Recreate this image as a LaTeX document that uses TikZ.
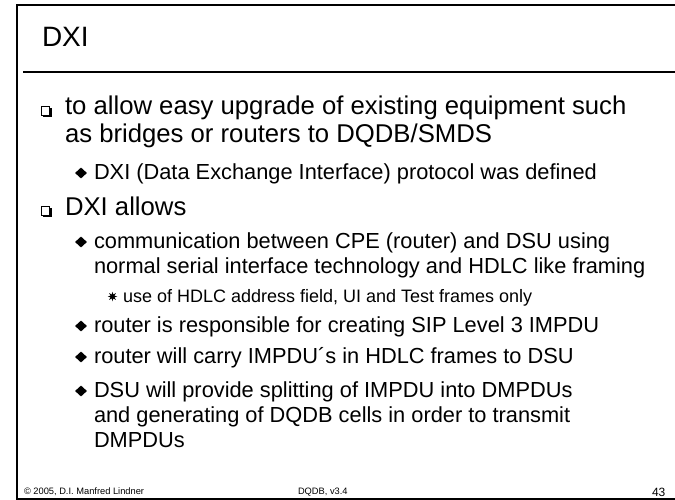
\documentclass[tikz,border=0pt]{standalone}
\usepackage{fontspec}
\setmainfont{Liberation Sans}
\usetikzlibrary{shapes.geometric}

\tikzset{
  x=1pt, y=-1pt,
  txt/.style={anchor=base west, inner sep=0pt, outer sep=0pt},
  titletxt/.style={txt, font=\fontsize{28}{30}\selectfont},
  lone/.style={txt, font=\fontsize{25.7}{28}\selectfont},
  ltwo/.style={txt, font=\fontsize{21.8}{24}\selectfont},
  lthree/.style={txt, font=\fontsize{18}{20}\selectfont},
  foot/.style={txt, font=\fontsize{9.3}{10}\selectfont},
  pagenum/.style={txt, font=\fontsize{12}{13}\selectfont},
  dmd/.style={diamond, fill=black, inner sep=0pt, minimum width=12pt, minimum height=11pt},
  asterbul/.style={star, star points=8, star point ratio=2.2, fill=black, inner sep=0pt, minimum size=9.5pt},
  frameline/.style={line width=2pt, black},
  % shadowed square bullet, placed at the text baseline
  sqbul/.pic={
    \fill[black] (1.8,-8.2) rectangle (11,1.2);
    \fill[white] (0,-10) rectangle (8.6,-0.4);
    \draw[line width=0.9pt] (0.45,-9.55) rectangle (8.65,-0.45);
  }
}

\begin{document}
\begin{tikzpicture}
\useasboundingbox (0,0) rectangle (675,500);
\fill[white] (0,0) rectangle (675,500);

% slide frame, open to the right
\draw[frameline] (676,5) -- (17,5) -- (17,498.5) -- (676,498.5);

% title and rule beneath it
\node[titletxt] (title) at (42,47) {DXI};
\draw[line width=2.6pt] (23,72) -- (676,72);

% first item
\pic at (41,116) {sqbul};
\node[lone] (a1) at (65,115) {to allow easy upgrade of existing equipment such};
\node[lone] (a2) at (65,143) {as bridges or routers to DQDB/SMDS};
\node[dmd] (b1) at (81,173) {};
\node[ltwo] (a3) at (94,179) {DXI (Data Exchange Interface) protocol was defined};

% second item
\pic at (41,216) {sqbul};
\node[lone] (c1) at (65,215) {DXI allows};

\node[dmd] (d1) at (81,242) {};
\node[ltwo] (c2) at (94,248) {communication between CPE (router) and DSU using};
\node[ltwo] (c3) at (94,273) {normal serial interface technology and HDLC like framing};
\node[asterbul] (e1) at (112.5,296.5) {};
\node[lthree] (c4) at (123,302) {use of HDLC address field, UI and Test frames only};

\node[dmd] (d2) at (81,326) {};
\node[ltwo] (c5) at (94,332) {router is responsible for creating SIP Level 3 IMPDU};

\node[dmd] (d3) at (81,357) {};
\node[ltwo] (c6) at (94,363) {router will carry IMPDU´s in HDLC frames to DSU};

\node[dmd] (d4) at (81,391) {};
\node[ltwo] (c7) at (94,397) {DSU will provide splitting of IMPDU into DMPDUs};
\node[ltwo] (c8) at (94,422) {and generating of DQDB cells in order to transmit};
\node[ltwo] (c9) at (94,447) {DMPDUs};

% footer
\node[foot] (f1) at (24,494.5) {© 2005, D.I. Manfred Lindner};
\node[foot] (f2) at (298,494.5) {DQDB, v3.4};
\node[pagenum] (f3) at (652,496) {43};
\end{tikzpicture}
\end{document}
